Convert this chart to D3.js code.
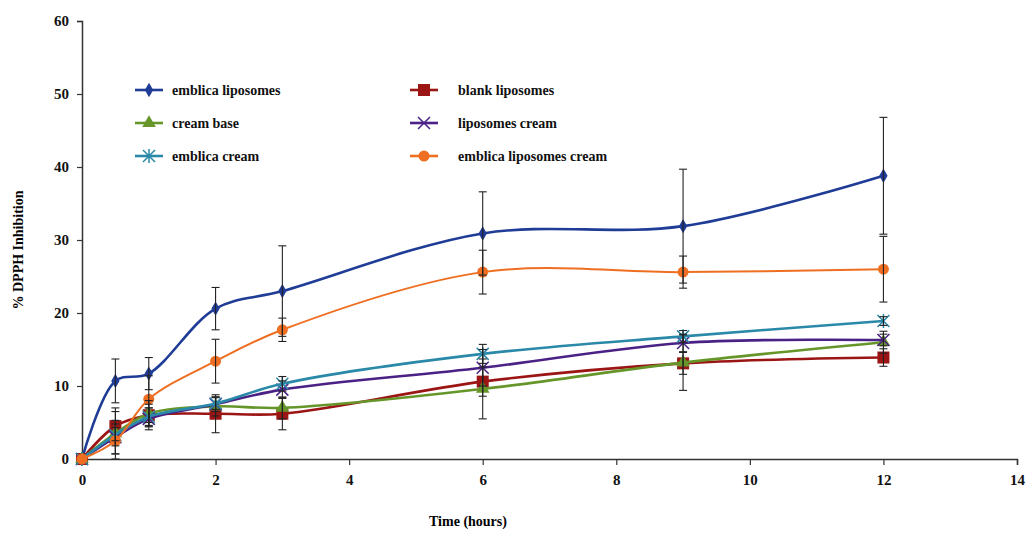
<!DOCTYPE html>
<html>
<head>
<meta charset="utf-8">
<script src="https://cdn.jsdelivr.net/npm/d3@7"></script>
<style>
  body { margin: 0; background: #fff; }
  text { font-family: "Liberation Serif", "Times New Roman", serif; font-weight: bold; }
</style>
</head>
<body>
<svg id="chart" width="1028" height="538"></svg>
<script>
// time points (hours)
var times = [0, 0.5, 1, 2, 3, 6, 9, 12];

// % DPPH inhibition per formulation
var emblicaLiposomes = [0, 10.7, 11.7, 20.6, 23.0, 30.9, 31.9, 38.8];
var blankLiposomes = [0, 4.5, 6.0, 6.2, 6.2, 10.6, 13.1, 13.9];
var creamBase = [0, 3.5, 6.2, 7.2, 7.0, 9.6, 13.2, 16.0];
var liposomesCream = [0, 3.0, 5.5, 7.5, 9.5, 12.5, 15.9, 16.3];
var emblicaCream = [0, 3.3, 5.8, 7.6, 10.3, 14.4, 16.8, 18.9];
var emblicaLiposomesCream = [0, 2.5, 8.2, 13.4, 17.7, 25.6, 25.6, 26.0];

// error bars (+/-)
var emblicaLiposomesErr = [0, 3.0, 2.2, 2.9, 6.2, 5.7, 7.8, 8.0];
var blankLiposomesErr = [0, 2.0, 1.5, 2.6, 2.2, 2.0, 1.5, 1.2];
var creamBaseErr = [0, 3.5, 1.8, 1.3, 1.5, 4.1, 3.8, 1.5];
var liposomesCreamErr = [0, 2.3, 1.5, 1.0, 1.2, 2.5, 1.2, 0.8];
var emblicaCreamErr = [0, 1.5, 1.2, 0.8, 1.0, 1.3, 0.8, 0.6];
var emblicaLiposomesCreamErr = [0, 1.8, 3.2, 3.0, 1.6, 3.0, 2.2, 4.5];

var xTicks = [0, 2, 4, 6, 8, 10, 12, 14];
var yTicks = [0, 10, 20, 30, 40, 50, 60];

var series = [
  {name: 'emblica liposomes', values: emblicaLiposomes, err: emblicaLiposomesErr, color: '#1f3c96', marker: 'diamond', col: 0, row: 0},
  {name: 'blank liposomes', values: blankLiposomes, err: blankLiposomesErr, color: '#9c1515', marker: 'square', col: 1, row: 0},
  {name: 'cream base', values: creamBase, err: creamBaseErr, color: '#66962a', marker: 'triangle', col: 0, row: 1},
  {name: 'liposomes cream', values: liposomesCream, err: liposomesCreamErr, color: '#4a2185', marker: 'x', col: 1, row: 1},
  {name: 'emblica cream', values: emblicaCream, err: emblicaCreamErr, color: '#2a89a8', marker: 'star', col: 0, row: 2},
  {name: 'emblica liposomes cream', values: emblicaLiposomesCream, err: emblicaLiposomesCreamErr, color: '#ef6f22', marker: 'circle', col: 1, row: 2}
];

var svg = d3.select('#chart');

var x = d3.scaleLinear().domain([0, 14]).range([82, 1017]);
var y = d3.scaleLinear().domain([0, 60]).range([459, 21]);

// axes
var xAxis = svg.append('g')
    .attr('transform', 'translate(0,' + y(0) + ')')
    .call(d3.axisBottom(x).tickValues(xTicks).tickSize(6).tickPadding(9));
var yAxis = svg.append('g')
    .attr('transform', 'translate(' + x(0) + ',0)')
    .call(d3.axisLeft(y).tickValues(yTicks).tickSize(5).tickPadding(8));

[xAxis, yAxis].forEach(function(a){
  a.select('.domain').attr('stroke', '#333').attr('stroke-width', 1.5);
  a.selectAll('.tick line').attr('stroke', '#333').attr('stroke-width', 1.2);
  a.selectAll('.tick text')
      .attr('fill', '#111')
      .style('font-size', '15px')
      .style('font-family', '"Liberation Serif", serif')
      .style('font-weight', 'bold');
});

// axis titles
svg.append('text')
    .attr('x', 468).attr('y', 526)
    .attr('text-anchor', 'middle')
    .style('font-size', '14px')
    .text('Time (hours)');

svg.append('text')
    .attr('transform', 'translate(23,250) rotate(-90)')
    .attr('text-anchor', 'middle')
    .style('font-size', '14px')
    .text('% DPPH Inhibition');

var line = d3.line()
    .x(function(d){ return x(d[0]); })
    .y(function(d){ return y(d[1]); })
    .curve(d3.curveCatmullRom.alpha(0.5));

function drawMarker(g, type, color, cx, cy){
  if(type == 'diamond'){
    g.append('path').attr('d', d3.symbol().type(d3.symbolDiamond).size(60)())
      .attr('transform', 'translate(' + cx + ',' + cy + ')').attr('fill', color);
  }
  if(type == 'square'){
    g.append('rect').attr('x', cx - 6).attr('y', cy - 6).attr('width', 12).attr('height', 12).attr('fill', color);
  }
  if(type == 'triangle'){
    g.append('path').attr('d', d3.symbol().type(d3.symbolTriangle).size(80)())
      .attr('transform', 'translate(' + cx + ',' + cy + ')').attr('fill', color);
  }
  if(type == 'circle'){
    g.append('circle').attr('cx', cx).attr('cy', cy).attr('r', 5.5).attr('fill', color);
  }
  if(type == 'x'){
    g.append('path').attr('d', 'M-6,-6L6,6M-6,6L6,-6')
      .attr('transform', 'translate(' + cx + ',' + cy + ')').attr('stroke', color).attr('stroke-width', 1.5);
  }
  if(type == 'star'){
    g.append('path').attr('d', 'M-6,-6L6,6M-6,6L6,-6M0,-7L0,7')
      .attr('transform', 'translate(' + cx + ',' + cy + ')').attr('stroke', color).attr('stroke-width', 1.5);
  }
}

// lines and markers
series.forEach(function(s){
  var pts = times.map(function(t, i){ return [t, s.values[i]]; });
  svg.append('path')
      .datum(pts)
      .attr('d', line)
      .attr('fill', 'none')
      .attr('stroke', s.color)
      .attr('stroke-width', s.name == 'emblica liposomes cream' ? 2 : 2.6);
  var g = svg.append('g');
  pts.forEach(function(p){
    drawMarker(g, s.marker, s.color, x(p[0]), y(p[1]));
  });
});

// error bars
var eb = svg.append('g').attr('stroke', '#222').attr('stroke-width', 1.1);
series.forEach(function(s){
  times.forEach(function(t, i){
    if(!s.err[i]) return;
    var cx = x(t), y1 = y(s.values[i] + s.err[i]), y2 = y(s.values[i] - s.err[i]);
    eb.append('line').attr('x1', cx).attr('x2', cx).attr('y1', y1).attr('y2', y2);
    eb.append('line').attr('x1', cx - 4).attr('x2', cx + 4).attr('y1', y1).attr('y2', y1);
    eb.append('line').attr('x1', cx - 4).attr('x2', cx + 4).attr('y1', y2).attr('y2', y2);
  });
});

// legend
var legend = svg.append('g');
series.forEach(function(s){
  var lx = s.col == 0 ? 135 : 410;
  var ly = 90 + s.row * 33;
  legend.append('line')
      .attr('x1', lx).attr('x2', lx + 28).attr('y1', ly).attr('y2', ly)
      .attr('stroke', s.color).attr('stroke-width', 2.6);
  drawMarker(legend, s.marker, s.color, lx + 14, ly);
  legend.append('text')
      .attr('x', s.col == 0 ? lx + 37 : lx + 48)
      .attr('y', ly + 5)
      .style('font-size', '14px')
      .attr('fill', '#111')
      .text(s.name);
});
</script>
</body>
</html>
